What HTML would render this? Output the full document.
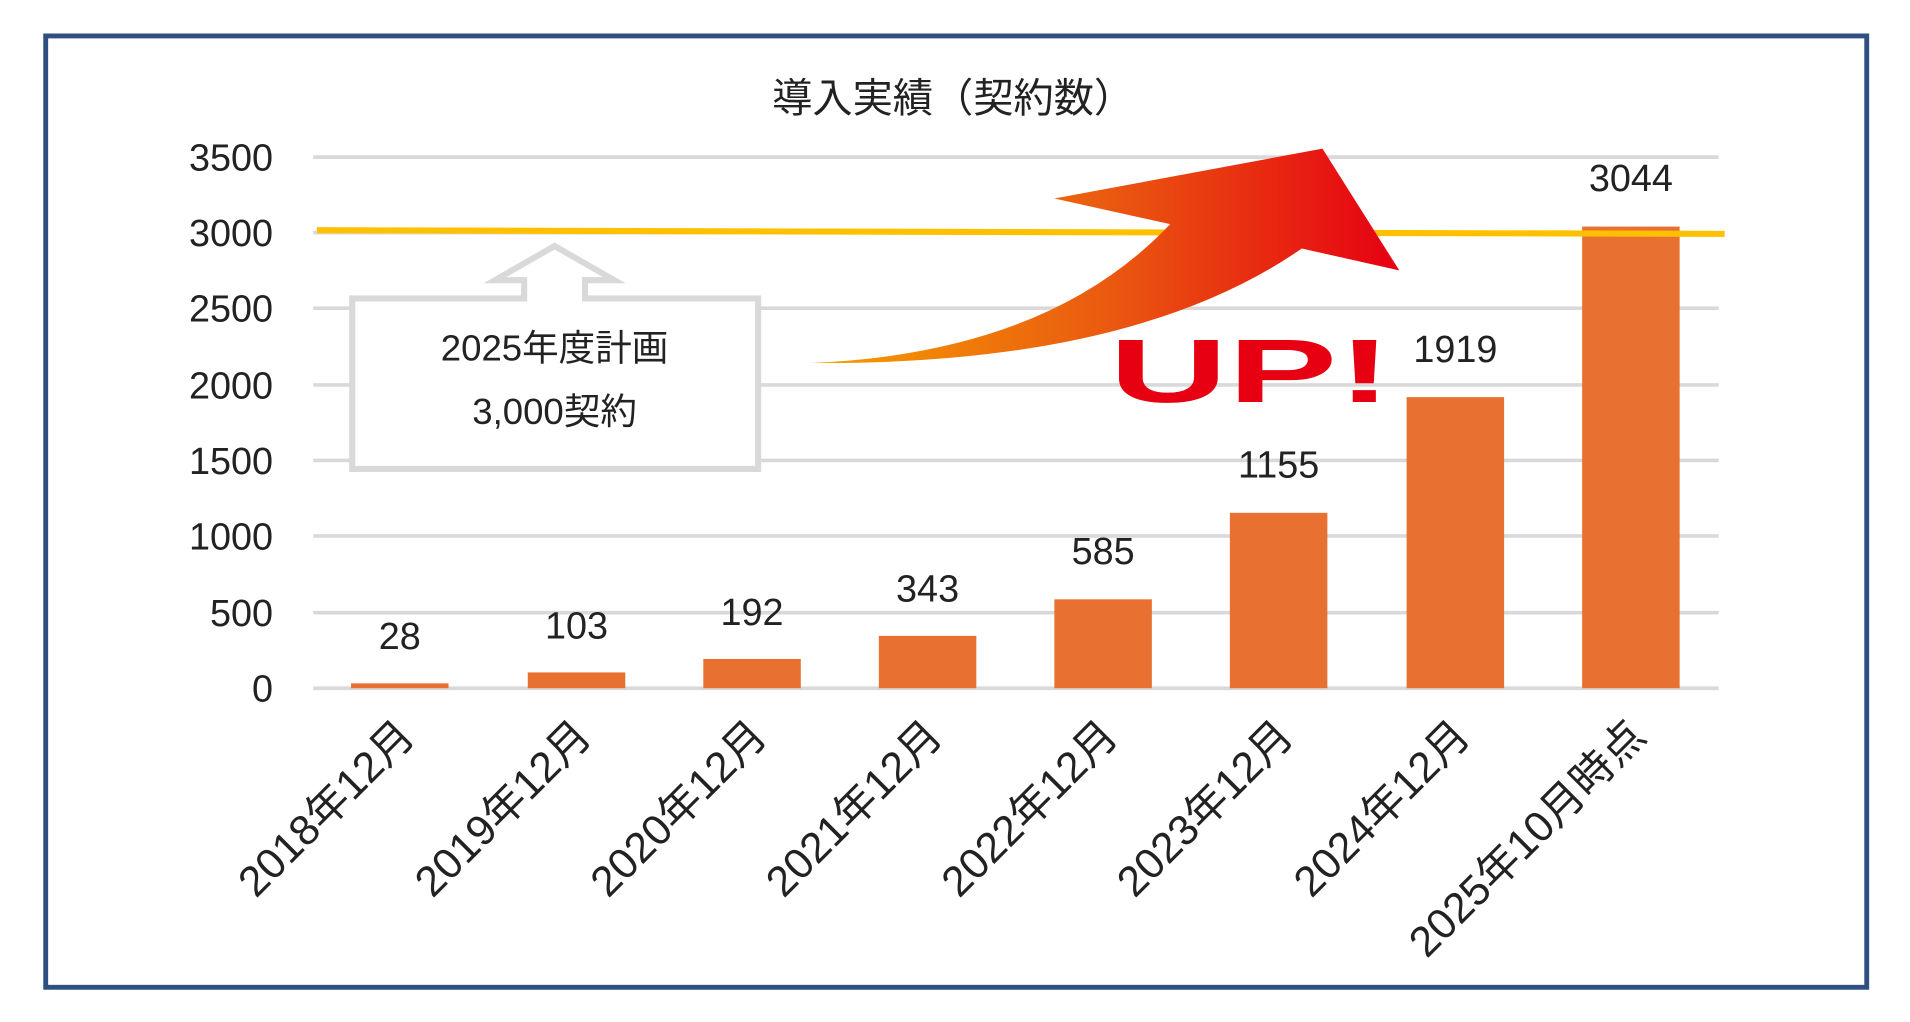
<!DOCTYPE html>
<html><head><meta charset="utf-8"><style>
html,body{margin:0;padding:0;background:#fff;}
svg{display:block;}
text{font-family:"Liberation Sans","Noto Sans CJK JP",sans-serif;fill:#222;}
</style></head><body>
<svg width="1910" height="1022" viewBox="0 0 1567 839" preserveAspectRatio="none" xmlns="http://www.w3.org/2000/svg">
<defs>
<linearGradient id="g" x1="665" y1="0" x2="1148" y2="0" gradientUnits="userSpaceOnUse">
<stop offset="0" stop-color="#f5a000"/><stop offset="0.5" stop-color="#ea5a10"/><stop offset="1" stop-color="#e60012"/>
</linearGradient>
</defs>
<rect x="0" y="0" width="1567" height="839" fill="#fff"/>
<rect x="37.5" y="29.5" width="1494" height="781" fill="#fff" stroke="#2e4f7f" stroke-width="4"/>
<text x="782" y="92" font-size="33" text-anchor="middle">導入実績（契約数）</text>
<g stroke="#d9d9d9" stroke-width="3">
<line x1="257" y1="129" x2="1410" y2="129"/><line x1="257" y1="191" x2="1410" y2="191"/>
<line x1="257" y1="253" x2="1410" y2="253"/><line x1="257" y1="316" x2="1410" y2="316"/>
<line x1="257" y1="378" x2="1410" y2="378"/><line x1="257" y1="440" x2="1410" y2="440"/>
<line x1="257" y1="503" x2="1410" y2="503"/><line x1="257" y1="565" x2="1410" y2="565"/>
</g>
<g font-size="31" text-anchor="end">
<text x="224" y="140">3500</text><text x="224" y="202">3000</text><text x="224" y="264">2500</text>
<text x="224" y="327">2000</text><text x="224" y="389">1500</text><text x="224" y="451">1000</text>
<text x="224" y="514">500</text><text x="224" y="576">0</text>
</g>
<g fill="#e87131">
<rect x="288" y="561" width="80" height="4"/><rect x="433" y="552" width="80" height="13"/>
<rect x="577" y="541" width="80" height="24"/><rect x="721" y="522" width="80" height="43"/>
<rect x="865" y="492" width="80" height="73"/><rect x="1009" y="421" width="80" height="144"/>
<rect x="1154" y="326" width="80" height="239"/><rect x="1298" y="186" width="80" height="379"/>
</g>
<line x1="260" y1="189" x2="1415" y2="192" stroke="#ffc000" stroke-width="5"/>
<g font-size="31" text-anchor="middle">
<text x="328" y="533">28</text><text x="473" y="524">103</text><text x="617" y="513">192</text>
<text x="761" y="494">343</text><text x="905" y="463">585</text><text x="1049" y="392">1155</text>
<text x="1194" y="297">1919</text><text x="1338" y="157">3044</text>
</g>
<g font-size="35" text-anchor="end">
<text transform="translate(342,606) rotate(-45)">2018年12月</text>
<text transform="translate(487,606) rotate(-45)">2019年12月</text>
<text transform="translate(631,606) rotate(-45)">2020年12月</text>
<text transform="translate(775,606) rotate(-45)">2021年12月</text>
<text transform="translate(919,606) rotate(-45)">2022年12月</text>
<text transform="translate(1063,606) rotate(-45)">2023年12月</text>
<text transform="translate(1208,606) rotate(-45)">2024年12月</text>
<text transform="translate(1352,606) rotate(-45)">2025年10月時点</text>
</g>
<path d="M289,245 H430 V230 H406 L455,202 L504,230 H480 V245 H622 V385 H289 Z" fill="#fff" stroke="#d9d9d9" stroke-width="5"/>
<text x="455" y="296" font-size="30" text-anchor="middle">2025年度計画</text>
<text x="455" y="348" font-size="30" text-anchor="middle">3,000契約</text>
<path d="M665,298 Q860,290 960,184 L865,163 L1085,122 L1148,222 L1068,204 Q930,300 665,298 Z" fill="url(#g)"/>
<text x="910" y="330" font-size="74" font-weight="bold" fill="#e60012" style="fill:#e60012" textLength="232" lengthAdjust="spacingAndGlyphs">UP!</text>
</svg>
</body></html>
